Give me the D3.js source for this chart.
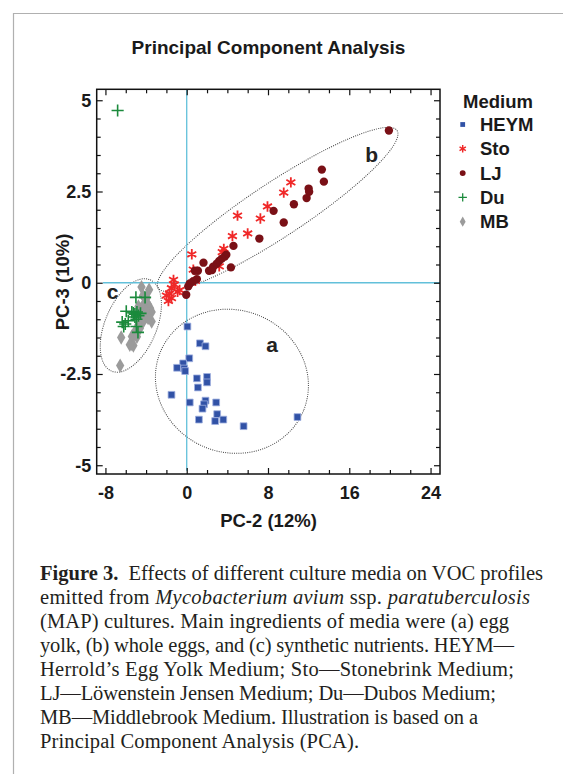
<!DOCTYPE html>
<html>
<head>
<meta charset="utf-8">
<script src="https://cdn.jsdelivr.net/npm/d3@7"></script>
<style>
  body { margin: 0; background: #fff; }
  svg { display: block; }
</style>
</head>
<body>
<div id="chart"></div>
<script>
// data: [PC-2, PC-3]
const heym = [[0.07,-1.2],[1.3,-1.66],[1.85,-1.74],[0.25,-2.07],[-0.35,-2.21],[-0.95,-2.33],[-0.25,-2.35],[-0.15,-2.42],
  [1.0,-2.62],[2.0,-2.58],[2.0,-2.73],[1.1,-2.87],[-1.5,-3.07],[0.3,-3.28],[1.85,-3.23],[1.7,-3.33],[1.55,-3.45],
  [2.9,-3.28],[3.0,-3.6],[2.8,-3.79],[3.6,-3.75],[1.2,-3.75],[5.6,-3.93],[10.9,-3.68]];
const sto = [[10.25,2.75],[9.55,2.47],[7.95,2.09],[7.25,1.76],[5.0,1.84],[6.0,1.35],[4.5,1.28],[3.65,0.93],[3.5,0.84],
  [3.2,0.45],[0.5,0.78],[0.65,0.36],[0.85,0.05],[-1.3,0.08],[-1.5,-0.15],[-0.9,-0.25],[-1.7,-0.3],[-2.0,-0.35],
  [-1.5,-0.42],[-1.2,-0.05],[-0.7,-0.2],[-1.8,-0.5]];
const lj = [[19.9,4.17],[13.3,3.1],[13.5,2.77],[12.0,2.58],[12.05,2.49],[11.8,2.32],[10.55,2.15],[8.55,1.97],[9.55,1.65],
  [7.15,1.21],[4.6,1.01],[3.9,0.77],[3.75,0.72],[3.45,0.66],[3.2,0.6],[2.95,0.52],[2.6,0.44],[4.35,0.42],[2.2,0.33],
  [2.5,0.35],[1.65,0.55],[1.1,0.33],[0.8,0.33],[1.0,0.1],[0.65,0.04],[0.3,-0.02],[0.15,-0.1],[-0.05,-0.33]];
const du = [[-6.8,4.72],[-5.0,-0.4],[-4.1,-0.4],[-5.95,-0.78],[-5.4,-0.8],[-5.25,-0.83],[-5.1,-0.86],[-4.9,-0.8],
  [-4.75,-0.9],[-4.55,-0.84],[-5.1,-0.94],[-4.95,-1.0],[-6.35,-1.08],[-6.05,-1.13],[-5.75,-1.04],[-6.2,-1.2],
  [-4.95,-1.2],[-4.8,-1.36]];
const mb = [[-4.45,-0.12],[-3.7,-0.19],[-3.95,-0.42],[-4.1,-0.56],[-3.8,-0.6],[-4.75,-0.65],[-3.6,-0.7],[-4.45,-0.69],
  [-3.45,-0.8],[-4.75,-0.79],[-4.6,-0.92],[-3.95,-0.92],[-4.25,-1.05],[-3.45,-1.06],[-3.8,-0.97],[-4.75,-1.15],
  [-4.6,-1.25],[-5.1,-1.34],[-5.4,-1.47],[-5.25,-1.45],[-4.9,-1.48],[-6.45,-1.5],[-5.4,-1.68],[-5.25,-1.72],
  [-5.6,-1.7],[-6.55,-2.27],[-4.3,-0.35],[-4.0,-0.78],[-4.4,-0.85]];

const mediumNames = ['HEYM', 'Sto', 'LJ', 'Du', 'MB'];
const xMajor = [-8, 0, 8, 16, 24];
const yMajor = [-5, -2.5, 0, 2.5, 5];

// groups: major axis ends in data units, minor half width as share of major half length
const groupNames = ['a', 'b', 'c'];
const groupAxes = [[[-2.6, -1.9], [11.5, -3.5]], [[-2.8, -0.15], [20.7, 4.17]], [[-7.4, -2.42], [-3.6, 0.08]]];
const groupRatio = [0.92, 0.19, 0.52];
const groupLabelAt = [[8.4, -1.9], [18.2, 3.3], [-7.3, -0.45]];

const captionLines = [
  [{t: 'Figure 3.', b: true}, {t: '\u2002Effects of different culture media on VOC profiles'}],
  [{t: 'emitted from '}, {t: 'Mycobacterium avium', i: true}, {t: ' ssp. '}, {t: 'paratuberculosis', i: true}],
  [{t: '(MAP) cultures. Main ingredients of media were (a) egg'}],
  [{t: 'yolk, (b) whole eggs, and (c) synthetic nutrients. HEYM\u2014'}],
  [{t: 'Herrold\u2019s Egg Yolk Medium; Sto\u2014Stonebrink Medium;'}],
  [{t: 'LJ\u2014L\u00f6wenstein Jensen Medium; Du\u2014Dubos Medium;'}],
  [{t: 'MB\u2014Middlebrook Medium. Illustration is based on a'}],
  [{t: 'Principal Component Analysis (PCA).'}]
];
const captionWidths = [503, 490, 469, 474, 474, 456, 438, 319];

// canvas
const W = 563, H = 774;
const svg = d3.select('#chart').append('svg').attr('width', W).attr('height', H);
const sans = 'Liberation Sans, Arial, sans-serif';

// outer frame of the figure panel
svg.append('path').attr('d', `M13.5,${H}V13.5H${W}`)
  .attr('fill', 'none').attr('stroke', '#b0b0b0').attr('stroke-width', 1.2);

const x = d3.scaleLinear().domain([-8.86, 24.93]).range([96.7, 440]);
const y = d3.scaleLinear().domain([-5.24, 5.3]).range([474, 89.3]);

// title
svg.append('text').attr('x', 268.5).attr('y', 54).attr('text-anchor', 'middle')
  .style('font', `bold 19px ${sans}`).attr('fill', '#1a1a1a').text('Principal Component Analysis');

// dotted ellipses
const g = svg.append('g');
groupAxes.forEach((ax, i) => {
  const p0 = [x(ax[0][0]), y(ax[0][1])], p1 = [x(ax[1][0]), y(ax[1][1])];
  const cx = (p0[0] + p1[0]) / 2, cy = (p0[1] + p1[1]) / 2;
  const rx = Math.hypot(p1[0] - p0[0], p1[1] - p0[1]) / 2;
  const ang = Math.atan2(p1[1] - p0[1], p1[0] - p0[0]) * 180 / Math.PI;
  g.append('ellipse').attr('cx', 0).attr('cy', 0).attr('rx', rx).attr('ry', rx * groupRatio[i])
    .attr('transform', `translate(${cx},${cy}) rotate(${ang})`)
    .attr('fill', 'none').attr('stroke', '#444').attr('stroke-width', 1)
    .attr('stroke-dasharray', '1,1.2');
});
g.selectAll('.glabel').data(groupNames).enter().append('text')
  .attr('x', (d, i) => x(groupLabelAt[i][0])).attr('y', (d, i) => y(groupLabelAt[i][1]))
  .attr('text-anchor', 'middle').style('font', `bold 21px ${sans}`).attr('fill', '#222').text(d => d);

// cyan zero lines
svg.append('line').attr('x1', x(0)).attr('x2', x(0)).attr('y1', y(5.3)).attr('y2', y(-5.15))
  .attr('stroke', '#62c0da').attr('stroke-width', 1.3);
svg.append('line').attr('x1', x(-8.25)).attr('x2', x(24.93)).attr('y1', y(0)).attr('y2', y(0))
  .attr('stroke', '#62c0da').attr('stroke-width', 1.3);

// axes with inward ticks
const xMinor = d3.range(-8, 25, 2), yMinor = d3.range(-5, 5.01, 0.5);
function addAxis(axisFn, scale, vals, size, tr, labels, pad) {
  const a = axisFn(scale).tickValues(vals).tickSizeInner(size).tickSizeOuter(0).tickPadding(pad || 8);
  a.tickFormat(labels ? (d => String(d)) : '');
  const s = svg.append('g').attr('transform', tr).call(a);
  s.select('.domain').remove();
  s.selectAll('line').attr('stroke', '#111').attr('stroke-width', 1.2);
  s.selectAll('text').style('font', `bold 18px ${sans}`).attr('fill', '#1a1a1a');
  return s;
}
addAxis(d3.axisBottom, x, xMinor.filter(v => v % 8 !== 0), -4, 'translate(0,474)', false);
addAxis(d3.axisBottom, x, xMajor, -6, 'translate(0,474)', true).selectAll('text').attr('dy', '0.95em');
addAxis(d3.axisTop, x, xMinor.filter(v => v % 8 !== 0), -4, 'translate(0,89.3)', false);
addAxis(d3.axisTop, x, xMajor, -6, 'translate(0,89.3)', false);
addAxis(d3.axisLeft, y, yMinor.filter(v => v % 2.5 !== 0), -4, 'translate(96.7,0)', false);
addAxis(d3.axisLeft, y, yMajor, -6, 'translate(96.7,0)', true, 5.5);
addAxis(d3.axisRight, y, yMinor.filter(v => v % 2.5 !== 0), -4, 'translate(440,0)', false);
addAxis(d3.axisRight, y, yMajor, -6, 'translate(440,0)', false);

svg.append('rect').attr('x', 96.7).attr('y', 89.3).attr('width', 440 - 96.7).attr('height', 474 - 89.3)
  .attr('fill', 'none').attr('stroke', '#111').attr('stroke-width', 1.5);

// axis titles
svg.append('text').attr('x', 268.5).attr('y', 527).attr('text-anchor', 'middle')
  .style('font', `bold 18.5px ${sans}`).attr('fill', '#1a1a1a').text('PC-2 (12%)');
svg.append('text').attr('transform', 'translate(69,282) rotate(-90)').attr('text-anchor', 'middle')
  .style('font', `bold 18.5px ${sans}`).attr('fill', '#1a1a1a').text('PC-3 (10%)');

// point styles per medium
const styles = [
  {data: heym, type: d3.symbolSquare, size: 46, fill: '#3152a6', stroke: '#9fb0e0', sw: 0.8},
  {data: sto, type: d3.symbolAsterisk, size: 75, fill: 'none', stroke: '#f02828', sw: 1.8},
  {data: lj, type: d3.symbolCircle, size: 55, fill: '#7a1016', stroke: 'none', sw: 0},
  {data: du, type: d3.symbolPlus, size: 50, fill: 'none', stroke: '#1b8a3c', sw: 1.6},
  {data: mb, type: d3.symbolDiamond, size: 60, fill: '#9b9b9b', stroke: 'none', sw: 0}
];
const drawOrder = [4, 3, 0, 1, 2];
drawOrder.forEach(k => {
  const st = styles[k];
  svg.append('g').selectAll('path').data(st.data).enter().append('path')
    .attr('d', d3.symbol().type(st.type).size(st.size))
    .attr('transform', d => `translate(${x(d[0])},${y(d[1])})`)
    .attr('fill', st.fill).attr('stroke', st.stroke).attr('stroke-width', st.sw);
});

// legend
const lg = svg.append('g');
lg.append('text').attr('x', 463).attr('y', 108).style('font', `bold 18.5px ${sans}`).attr('fill', '#1a1a1a').text('Medium');
mediumNames.forEach((name, i) => {
  const st = styles[i], cy = 124.5 + i * 24.3;
  lg.append('path').attr('d', d3.symbol().type(st.type).size(st.size * 0.5))
    .attr('transform', `translate(462.7,${cy})`)
    .attr('fill', st.fill).attr('stroke', st.stroke === '#9fb0e0' ? 'none' : st.stroke).attr('stroke-width', st.sw * 0.8);
  lg.append('text').attr('x', 480).attr('y', cy + 6.5).style('font', `bold 18.5px ${sans}`)
    .attr('fill', '#1a1a1a').text(name);
});

// caption
const cap = svg.append('g').style('font-family', 'Liberation Serif, Times New Roman, serif')
  .style('font-size', '20.5px').attr('fill', '#231f20');
captionLines.forEach((parts, i) => {
  const t = cap.append('text').attr('x', 40).attr('y', 580 + i * 24)
    .attr('textLength', captionWidths[i]).attr('lengthAdjust', 'spacing');
  parts.forEach(p => {
    t.append('tspan').text(p.t)
      .style('font-weight', p.b ? 'bold' : 'normal')
      .style('font-style', p.i ? 'italic' : 'normal');
  });
});
</script>
</body>
</html>
